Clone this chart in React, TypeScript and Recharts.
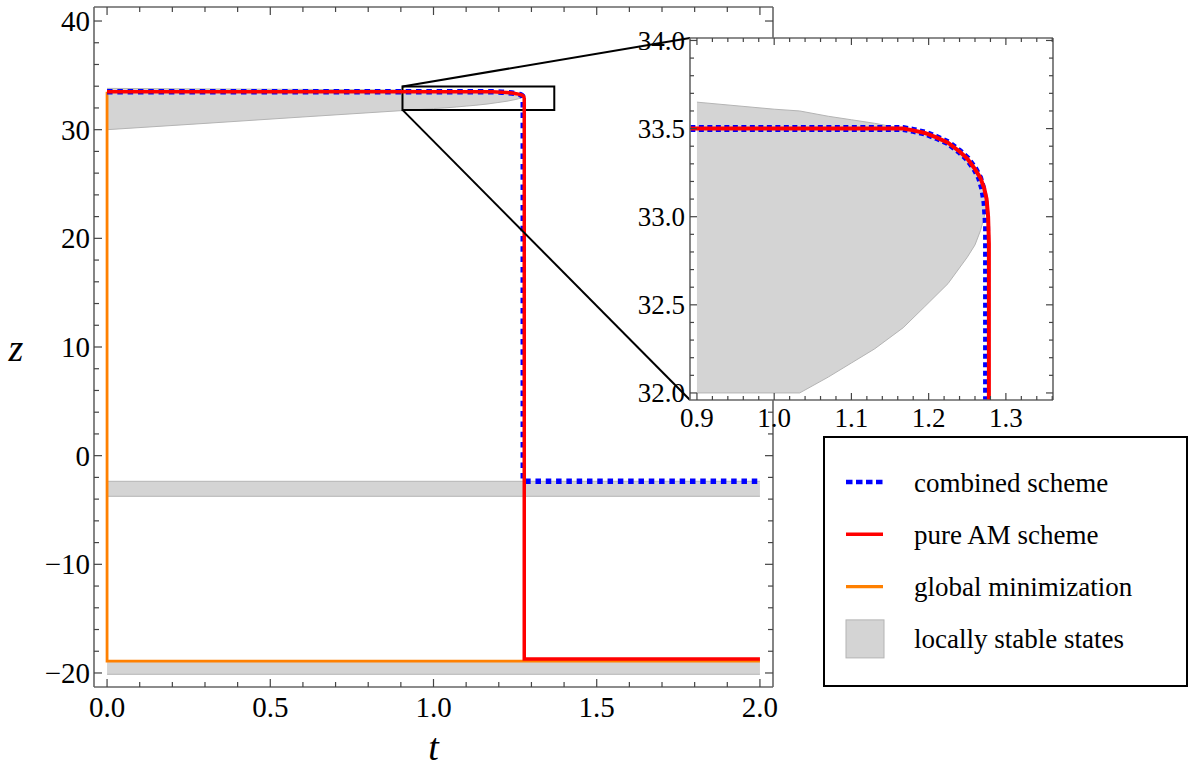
import React from "react";
import {
  Area,
  CartesianGrid,
  ComposedChart,
  Label,
  Legend,
  Line,
  ReferenceArea,
  ReferenceLine,
  XAxis,
  YAxis,
} from "recharts";

const SERIF = '"Liberation Serif", "Times New Roman", serif';

// ---- values ----
// combined scheme (blue, dotted)
const COMBINED_T = [0, 1.167, 1.18, 1.195, 1.21, 1.225, 1.24, 1.25, 1.26, 1.266, 1.27, 1.273, 1.275, 1.275, 2.0];
const COMBINED_Z = [33.5, 33.5, 33.49, 33.475, 33.45, 33.42, 33.37, 33.33, 33.27, 33.22, 33.16, 33.08, 32.95, -2.36, -2.36];

// pure AM scheme (red)
const PURE_AM_T = [0, 1.167, 1.18, 1.195, 1.21, 1.225, 1.24, 1.25, 1.26, 1.267, 1.272, 1.275, 1.277, 1.278, 1.278, 2.0];
const PURE_AM_Z = [33.5, 33.5, 33.49, 33.475, 33.45, 33.42, 33.37, 33.33, 33.27, 33.22, 33.16, 33.1, 33.0, 32.85, -18.72, -18.72];

// global minimization (orange)
const GLOBAL_MIN_T = [0, 0, 2.0];
const GLOBAL_MIN_Z = [33.5, -18.9, -18.9];

// locally stable states (grey bands)
const UPPER_T = [0, 0.3, 0.6, 0.9, 1.0, 1.033, 1.07, 1.1, 1.13, 1.167, 1.195, 1.225, 1.25, 1.26, 1.267, 1.272, 1.275];
const UPPER_LOW = [30.0, 30.58, 31.17, 31.75, 31.94, 32.0, 32.09, 32.17, 32.25, 32.37, 32.49, 32.62, 32.77, 32.84, 32.92, 33.0, 33.07];
const UPPER_HIGH = [33.8, 33.75, 33.71, 33.65, 33.61, 33.6, 33.57, 33.55, 33.53, 33.5, 33.475, 33.42, 33.33, 33.27, 33.22, 33.16, 33.07];
const MIDDLE_T = [0, 2.0];
const MIDDLE_LOW = [-3.74, -3.74];
const MIDDLE_HIGH = [-2.36, -2.36];
const LOWER_T = [0, 2.0];
const LOWER_LOW = [-20.12, -20.12];
const LOWER_HIGH = [-18.87, -18.87];

// axes
const MAIN_X_DOMAIN: [number, number] = [-0.04, 2.04];
const MAIN_Y_DOMAIN: [number, number] = [-21.29, 41.29];
const MAIN_X_MAJOR = [0, 0.5, 1.0, 1.5, 2.0];
const MAIN_Y_MAJOR = [-20, -10, 0, 10, 20, 30, 40];

const INSET_X_DOMAIN: [number, number] = [0.891, 1.361];
const INSET_Y_DOMAIN: [number, number] = [31.96, 34.014];
const INSET_X_MAJOR = [0.9, 1.0, 1.1, 1.2, 1.3];
const INSET_Y_MAJOR = [32.0, 32.5, 33.0, 33.5, 34.0];
const INSET_FROM_T = 0.9;
const INSET_CLIP_Z = 32.0;

// zoomed box drawn in the main panel
const ZOOM_BOX = { t1: 0.905, t2: 1.37, z1: 31.82, z2: 33.97 };

const LEGEND_LABELS = [
  "combined scheme",
  "pure AM scheme",
  "global minimization",
  "locally stable states",
];

const COLORS = {
  combined: "#0000ff",
  pureAM: "#ff0000",
  globalMin: "#ff8000",
  stable: "#d4d4d4",
  stableEdge: "#b4b4b4",
  frame: "#666666",
  tick: "#444444",
};

// ---- layout (page pixels) ----
const MAIN_PLOT = { left: 94, top: 7, right: 773, bottom: 687 };
const INSET_BOX = { left: 620, top: 10, width: 450, height: 430 };
const INSET_PLOT = { left: 690, top: 38, right: 1053, bottom: 400 };
const LEGEND_BOX = { left: 823, top: 436, width: 365, height: 251 };

function tickRange(from: number, to: number, step: number) {
  const n = Math.round((to - from) / step);
  return Array.from({ length: n + 1 }, (_, i) => +(from + i * step).toFixed(4));
}

const pts = (t: number[], z: number[]) => t.map((v, i) => ({ t: v, z: z[i] }));
const band = (t: number[], lo: number[], hi: number[]) =>
  t.map((v, i) => ({ t: v, band: [lo[i], hi[i]] }));

// page pixel -> main panel data coordinates (for the connector lines)
function toMain(px: number, py: number) {
  const [x0, x1] = MAIN_X_DOMAIN;
  const [y0, y1] = MAIN_Y_DOMAIN;
  return {
    x: x0 + ((px - MAIN_PLOT.left) / (MAIN_PLOT.right - MAIN_PLOT.left)) * (x1 - x0),
    y: y1 - ((py - MAIN_PLOT.top) / (MAIN_PLOT.bottom - MAIN_PLOT.top)) * (y1 - y0),
  };
}

function FrameTick(p: any) {
  const { x, y, payload, side, majors, fmt, majorLen, minorLen, size, gap } = p;
  const v = payload.value;
  const isMajor = majors.some((m: number) => Math.abs(m - v) < 1e-6);
  const len = isMajor ? majorLen : minorLen;
  let line = null;
  let label = null;
  const textStyle = { fontFamily: SERIF, fontSize: size };
  if (side === "bottom") {
    line = <line x1={x} y1={y} x2={x} y2={y - len} />;
    if (isMajor)
      label = (
        <text x={x} y={y + gap} textAnchor="middle" fontFamily={SERIF} style={textStyle} fill="#000">
          {fmt(v)}
        </text>
      );
  } else if (side === "top") {
    line = <line x1={x} y1={y} x2={x} y2={y + len} />;
  } else if (side === "left") {
    line = <line x1={x} y1={y} x2={x + len} y2={y} />;
    if (isMajor)
      label = (
        <text x={x - gap} y={y} dy="0.34em" textAnchor="end" fontFamily={SERIF} style={textStyle} fill="#000">
          {fmt(v)}
        </text>
      );
  } else {
    line = <line x1={x} y1={y} x2={x - len} y2={y} />;
  }
  return (
    <g>
      <g stroke={COLORS.tick} strokeWidth={1.2}>{line}</g>
      {label}
    </g>
  );
}

const fmtFixed = (v: number) => v.toFixed(1);
const fmtInt = (v: number) => (v < 0 ? `\u2212${Math.abs(v)}` : `${v}`);

function LegendBox() {
  const rowY = (i: number) => 44 + 52.3 * i;
  return (
    <div
      style={{
        width: LEGEND_BOX.width,
        height: LEGEND_BOX.height,
        boxSizing: "border-box",
        border: "2px solid #000",
        background: "#fff",
      }}
    >
      <svg width={LEGEND_BOX.width - 4} height={LEGEND_BOX.height - 4}>
        <line x1={21} x2={58} y1={rowY(0)} y2={rowY(0)} stroke={COLORS.combined} strokeWidth={4.5} strokeDasharray="6.5 3.5" />
        <line x1={21} x2={58} y1={rowY(1)} y2={rowY(1)} stroke={COLORS.pureAM} strokeWidth={3.5} />
        <line x1={21} x2={58} y1={rowY(2)} y2={rowY(2)} stroke={COLORS.globalMin} strokeWidth={3.2} />
        <rect x={21} y={rowY(3) - 19} width={38} height={38} fill={COLORS.stable} stroke={COLORS.stableEdge} strokeWidth={1} />
        {LEGEND_LABELS.map((s, i) => (
          <text key={s} x={89} y={rowY(i) + 9.5} fontFamily={SERIF} style={{ fontFamily: SERIF, fontSize: 27 }} fill="#000">
            {s}
          </text>
        ))}
      </svg>
    </div>
  );
}

export default function App() {
  const combined = pts(COMBINED_T, COMBINED_Z);
  const pureAM = pts(PURE_AM_T, PURE_AM_Z);
  const globalMin = pts(GLOBAL_MIN_T, GLOBAL_MIN_Z);
  const upper = band(UPPER_T, UPPER_LOW, UPPER_HIGH);
  const middle = band(MIDDLE_T, MIDDLE_LOW, MIDDLE_HIGH);
  const lower = band(LOWER_T, LOWER_LOW, LOWER_HIGH);
  const insetUpper = band(
    UPPER_T,
    UPPER_LOW.map((z) => Math.max(z, INSET_CLIP_Z)),
    UPPER_HIGH
  ).filter((d) => d.t >= INSET_FROM_T);

  const mainXTicks = tickRange(0, 2, 0.1);
  const mainYTicks = tickRange(-20, 40, 2);
  const insetXTicks = tickRange(0.9, 1.36, 0.02);
  const insetYTicks = tickRange(32, 34, 0.1);

  const frame = { stroke: COLORS.frame, strokeWidth: 1.6 };

  const cTop = toMain(INSET_PLOT.left, INSET_PLOT.top);
  const cBottom = toMain(INSET_PLOT.left, INSET_PLOT.bottom);

  const mainTick = (side: string, majors: number[], fmt: any) => (p: any) => (
    <FrameTick {...p} side={side} majors={majors} fmt={fmt} majorLen={8} minorLen={5} size={29} gap={side === "left" ? 4 : 30} />
  );
  const insetTick = (side: string, majors: number[], fmt: any) => (p: any) => (
    <FrameTick {...p} side={side} majors={majors} fmt={fmt} majorLen={7} minorLen={4} size={27} gap={side === "left" ? 5 : 27} />
  );

  const bandProps = {
    type: "linear" as const,
    dataKey: "band",
    fill: COLORS.stable,
    fillOpacity: 1,
    stroke: COLORS.stableEdge,
    strokeWidth: 1,
    dot: false,
    activeDot: false,
    isAnimationActive: false,
  };
  const lineProps = {
    type: "linear" as const,
    dataKey: "z",
    dot: false,
    activeDot: false,
    isAnimationActive: false,
  };
  const titleStyle = { fontFamily: SERIF, fontSize: 38, fontStyle: "italic" as const };

  return (
    <div style={{ position: "absolute", left: 0, top: 0, width: 1196, height: 767, background: "#fff", fontFamily: SERIF }}>
      <div style={{ position: "absolute", left: 0, top: 0 }}>
        <ComposedChart
          width={1196}
          height={767}
          margin={{
            top: MAIN_PLOT.top - 1,
            left: MAIN_PLOT.left - 60,
            right: 1196 - MAIN_PLOT.right - 1,
            bottom: 767 - MAIN_PLOT.bottom - 30,
          }}
        >
          <XAxis
            type="number"
            dataKey="t"
            domain={MAIN_X_DOMAIN}
            allowDataOverflow
            ticks={mainXTicks}
            interval={0}
            height={30}
            tickSize={0}
            tickMargin={0}
            tickLine={false}
            axisLine={frame}
            tick={mainTick("bottom", MAIN_X_MAJOR, fmtFixed)}
          >
            <Label
              content={(p: any) => (
                <text x={p.viewBox.x + p.viewBox.width / 2} y={p.viewBox.y + 73} textAnchor="middle" fontFamily={SERIF} style={titleStyle}>
                  t
                </text>
              )}
            />
          </XAxis>
          <XAxis
            xAxisId="top"
            orientation="top"
            type="number"
            dataKey="t"
            domain={MAIN_X_DOMAIN}
            allowDataOverflow
            ticks={mainXTicks}
            interval={0}
            height={1}
            tickSize={0}
            tickMargin={0}
            tickLine={false}
            axisLine={frame}
            tick={mainTick("top", MAIN_X_MAJOR, fmtFixed)}
          />
          <YAxis
            type="number"
            domain={MAIN_Y_DOMAIN}
            allowDataOverflow
            ticks={mainYTicks}
            interval={0}
            width={60}
            tickSize={0}
            tickMargin={0}
            tickLine={false}
            axisLine={frame}
            tick={mainTick("left", MAIN_Y_MAJOR, fmtInt)}
          >
            <Label
              content={(p: any) => (
                <text x={p.viewBox.x - 18} y={p.viewBox.y + p.viewBox.height / 2 + 14} textAnchor="middle" fontFamily={SERIF} style={titleStyle}>
                  z
                </text>
              )}
            />
          </YAxis>
          <YAxis
            yAxisId="right"
            orientation="right"
            type="number"
            domain={MAIN_Y_DOMAIN}
            allowDataOverflow
            ticks={mainYTicks}
            interval={0}
            width={1}
            tickSize={0}
            tickMargin={0}
            tickLine={false}
            axisLine={frame}
            tick={mainTick("right", MAIN_Y_MAJOR, fmtInt)}
          />

          <Area {...bandProps} data={upper} />
          <Area {...bandProps} data={middle} />
          <Area {...bandProps} data={lower} />

          <Line {...lineProps} data={globalMin} stroke={COLORS.globalMin} strokeWidth={2.8} />
          <Line {...lineProps} data={combined} stroke={COLORS.combined} strokeWidth={5.5} strokeDasharray="5.5 4.8" />
          <Line {...lineProps} data={pureAM} stroke={COLORS.pureAM} strokeWidth={3.5} />

          <ReferenceArea
            x1={ZOOM_BOX.t1}
            x2={ZOOM_BOX.t2}
            y1={ZOOM_BOX.z1}
            y2={ZOOM_BOX.z2}
            fill="none"
            stroke="#000"
            strokeWidth={2}
            ifOverflow="visible"
          />
          <ReferenceLine
            segment={[{ x: ZOOM_BOX.t1, y: ZOOM_BOX.z2 }, cTop]}
            stroke="#000"
            strokeWidth={2}
            ifOverflow="visible"
          />
          <ReferenceLine
            segment={[{ x: ZOOM_BOX.t1, y: ZOOM_BOX.z1 }, cBottom]}
            stroke="#000"
            strokeWidth={2}
            ifOverflow="visible"
          />

          <Legend
            layout="vertical"
            align="center"
            verticalAlign="middle"
            wrapperStyle={{
              left: LEGEND_BOX.left,
              top: LEGEND_BOX.top,
              width: LEGEND_BOX.width,
              height: LEGEND_BOX.height,
            }}
            content={() => <LegendBox />}
          />
        </ComposedChart>
      </div>

      <div style={{ position: "absolute", left: INSET_BOX.left, top: INSET_BOX.top }}>
        <ComposedChart
          width={INSET_BOX.width}
          height={INSET_BOX.height}
          margin={{
            top: INSET_PLOT.top - INSET_BOX.top - 1,
            left: INSET_PLOT.left - INSET_BOX.left - 60,
            right: INSET_BOX.left + INSET_BOX.width - INSET_PLOT.right - 1,
            bottom: INSET_BOX.top + INSET_BOX.height - INSET_PLOT.bottom - 30,
          }}
        >
          <CartesianGrid horizontal={false} vertical={false} fill="#fff" />
          <XAxis
            type="number"
            dataKey="t"
            domain={INSET_X_DOMAIN}
            allowDataOverflow
            ticks={insetXTicks}
            interval={0}
            height={30}
            tickSize={0}
            tickMargin={0}
            tickLine={false}
            axisLine={frame}
            tick={insetTick("bottom", INSET_X_MAJOR, fmtFixed)}
          />
          <XAxis
            xAxisId="top"
            orientation="top"
            type="number"
            dataKey="t"
            domain={INSET_X_DOMAIN}
            allowDataOverflow
            ticks={insetXTicks}
            interval={0}
            height={1}
            tickSize={0}
            tickMargin={0}
            tickLine={false}
            axisLine={frame}
            tick={insetTick("top", INSET_X_MAJOR, fmtFixed)}
          />
          <YAxis
            type="number"
            domain={INSET_Y_DOMAIN}
            allowDataOverflow
            ticks={insetYTicks}
            interval={0}
            width={60}
            tickSize={0}
            tickMargin={0}
            tickLine={false}
            axisLine={frame}
            tick={insetTick("left", INSET_Y_MAJOR, fmtFixed)}
          />
          <YAxis
            yAxisId="right"
            orientation="right"
            type="number"
            domain={INSET_Y_DOMAIN}
            allowDataOverflow
            ticks={insetYTicks}
            interval={0}
            width={1}
            tickSize={0}
            tickMargin={0}
            tickLine={false}
            axisLine={frame}
            tick={insetTick("right", INSET_Y_MAJOR, fmtFixed)}
          />

          <Area {...bandProps} data={insetUpper} />
          <Line {...lineProps} data={combined} stroke={COLORS.combined} strokeWidth={7} strokeDasharray="5 3.5" />
          <Line {...lineProps} data={pureAM} stroke={COLORS.pureAM} strokeWidth={4} />
        </ComposedChart>
      </div>
    </div>
  );
}
